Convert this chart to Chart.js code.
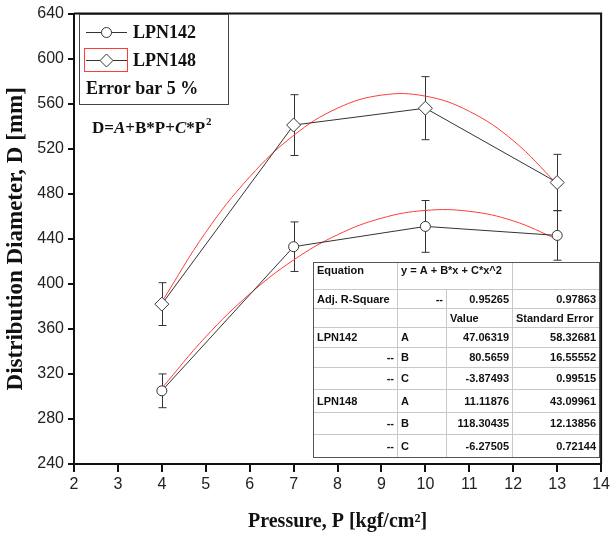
<!DOCTYPE html>
<html lang="en">
<head>
  <meta charset="UTF-8" />
  <title>Distribution Diameter vs Pressure</title>
  <script src="https://cdn.jsdelivr.net/npm/chart.js"></script>
  <style>
    html, body { margin: 0; padding: 0; background: #fff; }
    #wrap { width: 613px; height: 543px; position: relative; }
  </style>
</head>
<body>
  <div id="wrap"><canvas id="chart" width="613" height="543"></canvas></div>

  <script>
    // measured points
    const pressure = [4, 7, 10, 13];
    const lpn142 = [305, 433, 451, 443];
    const lpn148 = [382, 541, 556, 490];
    const err142 = [15, 22, 23, 22];
    const err148 = [19, 27, 28, 25];

    // red fit curves
    const fitX = [4, 5, 6, 7, 8, 9, 10, 11, 12, 13];
    const fit142 = [307.3, 353.0, 391.0, 421.2, 443.6, 458.3, 465.2, 464.4, 455.9, 439.6];
    const fit148 = [383.9, 445.8, 495.0, 531.8, 556.0, 567.6, 566.7, 553.2, 527.2, 488.6];

    const xTicks = [2, 3, 4, 5, 6, 7, 8, 9, 10, 11, 12, 13, 14];
    const yTicks = [240, 280, 320, 360, 400, 440, 480, 520, 560, 600, 640];

    // fit result table
    const tableRows = [
      ['Equation', 'y = A + B*x + C*x^2', '', ''],
      ['Adj. R-Square', '--', '0.95265', '0.97863'],
      ['', '', 'Value', 'Standard Error'],
      ['LPN142', 'A', '47.06319', '58.32681'],
      ['--', 'B', '80.5659', '16.55552'],
      ['--', 'C', '-3.87493', '0.99515'],
      ['LPN148', 'A', '11.11876', '43.09961'],
      ['--', 'B', '118.30435', '12.13856'],
      ['--', 'C', '-6.27505', '0.72144']
    ];

    const ink = '#333';
    const red = '#ff3b3b';
    const serif = '"Liberation Serif", "Times New Roman", serif';
    const sans = '"Liberation Sans", Arial, sans-serif';

    function pts(xs, ys) { return xs.map((x, i) => ({ x: x, y: ys[i] })); }

    const errorBars = {
      id: 'errorBars',
      beforeDatasetsDraw(chart) {
        const { ctx, scales: { x, y } } = chart;
        ctx.save();
        ctx.strokeStyle = ink;
        ctx.lineWidth = 1;
        [[lpn142, err142], [lpn148, err148]].forEach(([vals, errs]) => {
          vals.forEach((v, i) => {
            const px = Math.round(x.getPixelForValue(pressure[i])) + 0.5;
            const top = y.getPixelForValue(v + errs[i]);
            const bot = y.getPixelForValue(v - errs[i]);
            ctx.beginPath();
            ctx.moveTo(px, top); ctx.lineTo(px, bot);
            ctx.moveTo(px - 4, top); ctx.lineTo(px + 4, top);
            ctx.moveTo(px - 4, bot); ctx.lineTo(px + 4, bot);
            ctx.stroke();
          });
        });
        ctx.restore();
      }
    };

    const extras = {
      id: 'extras',
      afterDraw(chart) {
        const { ctx, chartArea: a } = chart;
        ctx.save();

        // frame top + right
        ctx.strokeStyle = '#111';
        ctx.lineWidth = 2;
        ctx.beginPath();
        ctx.moveTo(a.left, a.top); ctx.lineTo(a.right, a.top); ctx.lineTo(a.right, a.bottom);
        ctx.stroke();

        // legend box
        ctx.lineWidth = 1;
        ctx.strokeStyle = '#444';
        ctx.strokeRect(79.5, 14.5, 149, 90);
        ctx.strokeStyle = red;
        ctx.strokeRect(84.5, 48.5, 43, 23);
        ctx.strokeStyle = ink;
        ctx.beginPath();
        ctx.moveTo(86, 32.5); ctx.lineTo(127, 32.5);
        ctx.moveTo(86, 60.5); ctx.lineTo(127, 60.5);
        ctx.stroke();
        ctx.fillStyle = '#fff';
        ctx.beginPath(); ctx.arc(106.5, 32.5, 5, 0, Math.PI * 2); ctx.fill(); ctx.stroke();
        ctx.beginPath();
        ctx.moveTo(106.5, 54); ctx.lineTo(113, 60.5); ctx.lineTo(106.5, 67); ctx.lineTo(100, 60.5);
        ctx.closePath(); ctx.fill(); ctx.stroke();

        ctx.fillStyle = '#111';
        ctx.textBaseline = 'middle';
        ctx.textAlign = 'left';
        ctx.font = 'bold 18px ' + serif;
        ctx.fillText('LPN142', 133, 33);
        ctx.fillText('LPN148', 133, 61);
        ctx.fillText('Error bar 5 %', 86, 89);

        // equation
        let ex = 92;
        const ey = 129;
        [['D=', false], ['A', true], ['+B*P+', false], ['C', true], ['*P', false]].forEach(([s, it]) => {
          ctx.font = (it ? 'italic ' : '') + 'bold 17px ' + serif;
          ctx.fillText(s, ex, ey);
          ex += ctx.measureText(s).width;
        });
        ctx.font = 'bold 11px ' + serif;
        ctx.fillText('2', ex + 1, ey - 7);

        // table
        const cx = [313, 397, 446, 512, 599];
        const ry = [262, 289, 308, 327, 347, 367, 389, 412, 434, 457];
        ctx.fillStyle = '#fff';
        ctx.fillRect(cx[0], ry[0], cx[4] - cx[0], ry[9] - ry[0]);
        ctx.strokeStyle = '#c8c8c8';
        ctx.beginPath();
        for (let r = 1; r < 9; r++) {
          ctx.moveTo(cx[0], ry[r] + 0.5); ctx.lineTo(cx[4], ry[r] + 0.5);
        }
        for (let c = 1; c < 4; c++) {
          const from = c === 2 ? ry[1] : ry[0];
          ctx.moveTo(cx[c] + 0.5, from); ctx.lineTo(cx[c] + 0.5, ry[9]);
        }
        ctx.stroke();
        ctx.strokeStyle = '#555';
        ctx.strokeRect(cx[0] + 0.5, ry[0] + 0.5, cx[4] - cx[0], ry[9] - ry[0]);

        ctx.fillStyle = '#111';
        ctx.font = 'bold 11px ' + sans;
        tableRows.forEach((row, r) => {
          const yy = r === 0 ? ry[0] + 9 : (ry[r] + ry[r + 1]) / 2 + 1;
          row.forEach((txt, c) => {
            if (!txt) return;
            const right = (r > 0 && (c === 2 || c === 3) && r !== 2) || (c === 0 && txt === '--') || (r === 1 && c === 1);
            if (right) {
              ctx.textAlign = 'right';
              ctx.fillText(txt, cx[c + 1] - 3, yy);
            } else {
              ctx.textAlign = 'left';
              ctx.fillText(txt, cx[c] + 4, yy);
            }
          });
        });

        ctx.restore();
      }
    };

    new Chart(document.getElementById('chart').getContext('2d'), {
      type: 'line',
      data: {
        datasets: [
          {
            label: 'LPN142',
            data: pts(pressure, lpn142),
            borderColor: ink, borderWidth: 1,
            pointStyle: 'circle', pointRadius: 5,
            pointBackgroundColor: '#fff', pointBorderColor: ink, pointBorderWidth: 1,
            tension: 0, order: 1
          },
          {
            label: 'LPN148',
            data: pts(pressure, lpn148),
            borderColor: ink, borderWidth: 1,
            pointStyle: 'rectRot', pointRadius: 7,
            pointBackgroundColor: '#fff', pointBorderColor: ink, pointBorderWidth: 1,
            tension: 0, order: 1
          },
          {
            label: 'fit142',
            data: pts(fitX, fit142),
            borderColor: red, borderWidth: 1, pointRadius: 0,
            tension: 0.4, order: 2
          },
          {
            label: 'fit148',
            data: pts(fitX, fit148),
            borderColor: red, borderWidth: 1, pointRadius: 0,
            tension: 0.4, order: 2
          }
        ]
      },
      options: {
        responsive: false,
        animation: false,
        layout: { padding: { top: 12, right: 8, left: 0, bottom: 0 } },
        plugins: { legend: { display: false }, tooltip: { enabled: false } },
        scales: {
          x: {
            type: 'linear', min: 2, max: 14,
            afterBuildTicks: s => { s.ticks = xTicks.map(v => ({ value: v })); },
            afterFit: s => { s.height = 79; },
            border: { color: '#111', width: 2 },
            grid: { drawOnChartArea: false, color: '#111', lineWidth: 2, tickLength: 8 },
            ticks: { color: '#222', font: { family: sans, size: 16 }, padding: 3 },
            title: {
              display: true, text: 'Pressure, P [kgf/cm\u00b2]', color: '#111',
              font: { family: serif, size: 20, weight: 'bold' }, padding: { top: 9, bottom: 9 }
            }
          },
          y: {
            min: 240, max: 640,
            afterBuildTicks: s => { s.ticks = yTicks.map(v => ({ value: v })); },
            afterFit: s => { s.width = 74; },
            border: { color: '#111', width: 2 },
            grid: { drawOnChartArea: false, color: '#111', lineWidth: 2, tickLength: 6 },
            ticks: { color: '#222', font: { family: sans, size: 16 }, padding: 4 },
            title: {
              display: true, text: 'Distribution Diameter, D [mm]', color: '#111',
              font: { family: serif, size: 23, weight: 'bold' }, padding: { top: 2, bottom: 2 }
            }
          }
        }
      },
      plugins: [errorBars, extras]
    });
  </script>
</body>
</html>
